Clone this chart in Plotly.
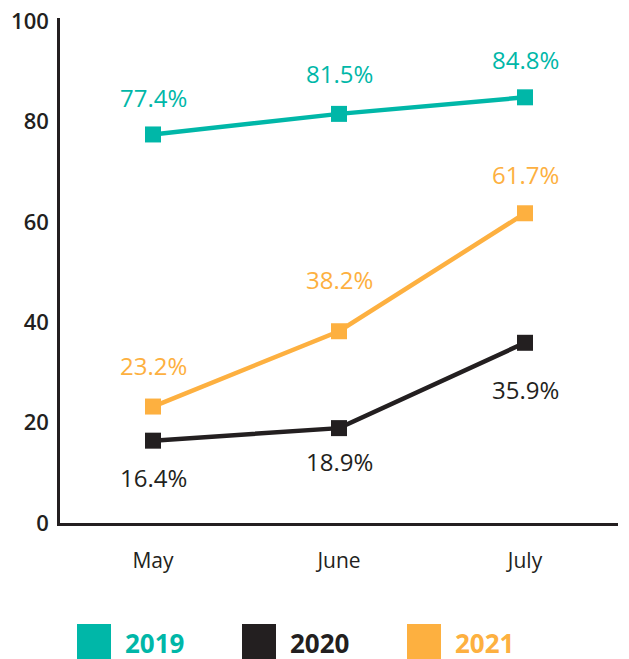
import plotly.graph_objects as go

months = ["May", "June", "July"]
series_names = ["2019", "2020", "2021"]
values_2019 = [77.4, 81.5, 84.8]
values_2020 = [16.4, 18.9, 35.9]
values_2021 = [23.2, 38.2, 61.7]
y_ticks = [0, 20, 40, 60, 80, 100]

colors = {"2019": "#00B7A8", "2020": "#231F20", "2021": "#FDB040"}
label_shift = {
    "2019": [37, 40, 38],
    "2020": [-37, -33, -47],
    "2021": [41, 52, 39],
}
series = {"2019": values_2019, "2020": values_2020, "2021": values_2021}

FONT = "Open Sans"
OFF = 8  # page body margin in the browser
W, H = 629 - OFF, 659 - OFF

fig = go.Figure()
annotations = []
for name in series_names:
    vals = series[name]
    fig.add_trace(go.Scatter(
        x=months, y=vals, mode="lines+markers", name=name,
        line=dict(color=colors[name], width=4.5),
        marker=dict(symbol="square", size=16, color=colors[name]),
        showlegend=False,
    ))
    for m, v, s in zip(months, vals, label_shift[name]):
        annotations.append(dict(
            x=m, y=v, xref="x", yref="y", text=f"{v:.1f}%", showarrow=False,
            yshift=s, font=dict(family=FONT, size=24, color=colors[name], weight=500),
            xanchor="center", yanchor="middle",
        ))

# plot-area edges in screen pixels (reference), converted to figure pixels
plot_l, plot_r, plot_t, plot_b = 60 - OFF, 618 - OFF, 18 - OFF, 523 - OFF
pw, ph = plot_r - plot_l, plot_b - plot_t
def px(x):
    return (x - OFF - plot_l) / pw
def py(y):
    return (plot_b - (y - OFF)) / ph

legend_x = [77, 242, 407]
shapes = []
for name, lx in zip(series_names, legend_x):
    shapes.append(dict(type="rect", xref="paper", yref="paper",
                       x0=px(lx), x1=px(lx + 34), y0=py(659), y1=py(624),
                       fillcolor=colors[name], line=dict(width=0), layer="above"))
    annotations.append(dict(x=px(lx + 46), y=py(643), xref="paper", yref="paper",
                            text=f"<b>{name}</b>", showarrow=False,
                            xanchor="left", yanchor="middle",
                            font=dict(family=FONT, size=26, color=colors[name])))

fig.update_layout(
    width=W, height=H,
    margin=dict(l=plot_l, r=W - plot_r, t=plot_t, b=H - plot_b, pad=0, autoexpand=False),
    paper_bgcolor="white", plot_bgcolor="white",
    annotations=annotations, shapes=shapes,
    xaxis=dict(type="category", range=[-0.5, 2.5], showgrid=False, zeroline=False,
               showline=True, linecolor="#231F20", linewidth=2.5, ticks="",
               automargin=False,
               tickfont=dict(family=FONT, size=21, color="#231F20"),
               ticklabelstandoff=17),
    yaxis=dict(range=[0, 100.6], tickvals=y_ticks, showgrid=False, zeroline=False,
               showline=True, linecolor="#231F20", linewidth=2.5, ticks="",
               automargin=False, ticklabeloverflow="allow",
               tickfont=dict(family=FONT, size=22, color="#231F20", weight=600),
               ticklabelstandoff=4),
)

fig.write_html("out.html")
